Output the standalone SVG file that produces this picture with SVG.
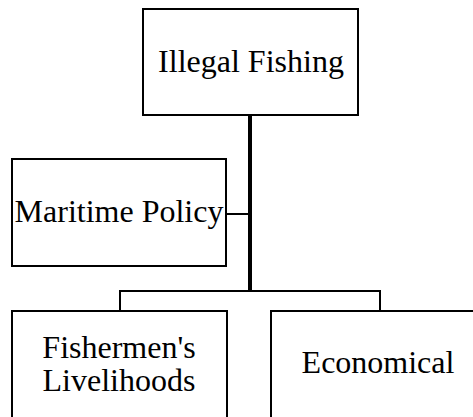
<svg xmlns="http://www.w3.org/2000/svg" width="473" height="417" viewBox="0 0 473 417">
<style>
.box{fill:#fff;stroke:#000;stroke-width:2}
.lbl{font-size:32px;fill:#000;text-anchor:middle}
.thin{stroke:#000;stroke-width:2;fill:none}
.thick{stroke:#000;stroke-width:4;fill:none}
</style>
<rect width="473" height="417" fill="#fff"/>
<g id="connectors">
<line class="thick" x1="250" y1="115" x2="250" y2="292"/>
<line class="thin" x1="226" y1="214" x2="250" y2="214"/>
<polyline class="thin" points="120,312 120,291 380,291 380,312"/>
</g>
<g font-family="Liberation Serif, serif">
<g id="illegal-fishing">
<rect class="box" x="143" y="9" width="215" height="106"/>
<text class="lbl" x="251" y="72">Illegal Fishing</text>
</g>
<g id="maritime-policy">
<rect class="box" x="12" y="159" width="214" height="107"/>
<text class="lbl" x="119" y="222">Maritime Policy</text>
</g>
<g id="fishermens-livelihoods">
<rect class="box" x="12" y="311" width="215" height="120"/>
<text class="lbl" x="119" y="358">Fishermen's</text>
<text class="lbl" x="119" y="391">Livelihoods</text>
</g>
<g id="economical">
<rect class="box" x="271" y="311" width="215" height="120"/>
<text class="lbl" x="378" y="373">Economical</text>
</g>
</g>
</svg>
